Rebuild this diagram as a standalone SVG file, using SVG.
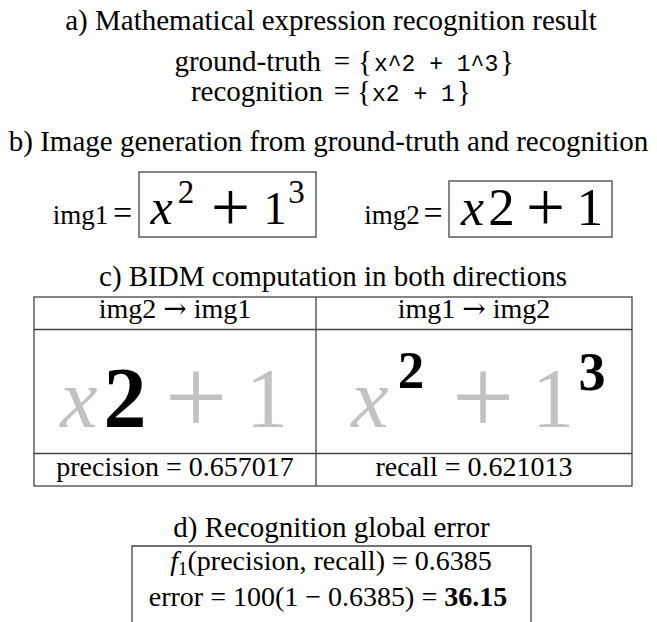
<svg xmlns="http://www.w3.org/2000/svg" width="657" height="622" viewBox="0 0 657 622">
<style>
text { font-family: "Liberation Serif", "DejaVu Serif", serif; fill: #000; }
.t { font-size: 29px; text-anchor: middle; }
.s { font-size: 28px; text-anchor: middle; }
.m { font-size: 29px; }
.mono { font-family: "Liberation Mono", "DejaVu Sans Mono", monospace; font-size: 23px; }
.arr { font-family: "DejaVu Serif", serif; }
.frame { fill: none; stroke: #444; stroke-width: 1.3; }
.g { fill: #c2c2c2; }
.it { font-style: italic; }
.c { text-anchor: middle; }
.e { text-anchor: end; }
.b { font-weight: bold; }
</style>
<rect width="657" height="622" fill="#fff"/>
<g id="title-a"><text class="t" x="331" y="30">a) Mathematical expression recognition result</text></g>
<g id="expr-a">
<text class="m e" x="321" y="71">ground-truth</text>
<text class="m c" x="342" y="71">=</text>
<text class="m" x="358" y="71">{</text>
<text class="mono" x="374" y="71">x^2 + 1^3</text>
<text class="m" x="500" y="71">}</text>
<text class="m e" x="323" y="101">recognition</text>
<text class="m c" x="342" y="101">=</text>
<text class="m" x="357" y="101">{</text>
<text class="mono" x="372" y="101">x2 + 1</text>
<text class="m" x="457" y="101">}</text>
</g>
<g id="title-b"><text class="t" x="328.5" y="151">b) Image generation from ground-truth and recognition</text></g>
<g id="img1">
<text class="c" x="80.5" y="224" font-size="27">img1</text>
<text class="c" x="122.5" y="224" font-size="34">=</text>
<rect class="frame" x="139" y="172" width="177" height="65"/>
<text class="it c" x="161.5" y="224" font-size="50">x</text>
<text class="c" x="186" y="203" font-size="33">2</text>
<text class="c" x="230.5" y="231" font-size="69">+</text>
<text class="c" x="275" y="224" font-size="46">1</text>
<text class="c" x="296.5" y="203" font-size="33">3</text>
</g>
<g id="img2">
<text class="c" x="392" y="224" font-size="27">img2</text>
<text class="c" x="433" y="224" font-size="34">=</text>
<rect class="frame" x="449" y="181" width="163" height="56"/>
<text class="it c" x="472.5" y="225" font-size="52">x</text>
<text class="c" x="501.5" y="225" font-size="53">2</text>
<text class="c" x="545.5" y="231" font-size="69">+</text>
<text class="c" x="590" y="225" font-size="53">1</text>
</g>
<g id="title-c"><text class="t" x="333" y="286">c) BIDM computation in both directions</text></g>
<g id="table-c">
<rect class="frame" x="34" y="297" width="598" height="189"/>
<path class="frame" d="M34,329.5H632M34,453.5H632M316,297V486"/>
<text class="s" x="175" y="318">img2 <tspan class="arr">→</tspan> img1</text>
<text class="s" x="474" y="318">img1 <tspan class="arr">→</tspan> img2</text>
<text class="it c g" x="79" y="427" font-size="84">x</text>
<text class="c b" x="125" y="427" font-size="86">2</text>
<text class="c g" x="196" y="434" font-size="111">+</text>
<text class="c g" x="267" y="427" font-size="84">1</text>
<text class="it c g" x="370" y="427" font-size="84">x</text>
<text class="c b" x="411" y="388" font-size="53">2</text>
<text class="c g" x="483" y="434" font-size="111">+</text>
<text class="c g" x="553" y="427" font-size="84">1</text>
<text class="c b" x="592" y="390" font-size="54">3</text>
<text class="s" x="175" y="476">precision = 0.657017</text>
<text class="s" x="474" y="476">recall = 0.621013</text>
</g>
<g id="title-d"><text class="t" x="331.5" y="537">d) Recognition global error</text></g>
<g id="box-d">
<path class="frame" d="M132,623V546H531V623"/>
<text class="s" x="331" y="570" font-size="28.5"><tspan class="it">f</tspan><tspan font-size="19" dy="5">1</tspan><tspan dy="-5">(precision, recall) = 0.6385</tspan></text>
<text class="s" x="328" y="606" font-size="28.5">error = 100(1 − 0.6385) = <tspan class="b">36.15</tspan></text>
</g>
<g id="connectors"/>
</svg>
